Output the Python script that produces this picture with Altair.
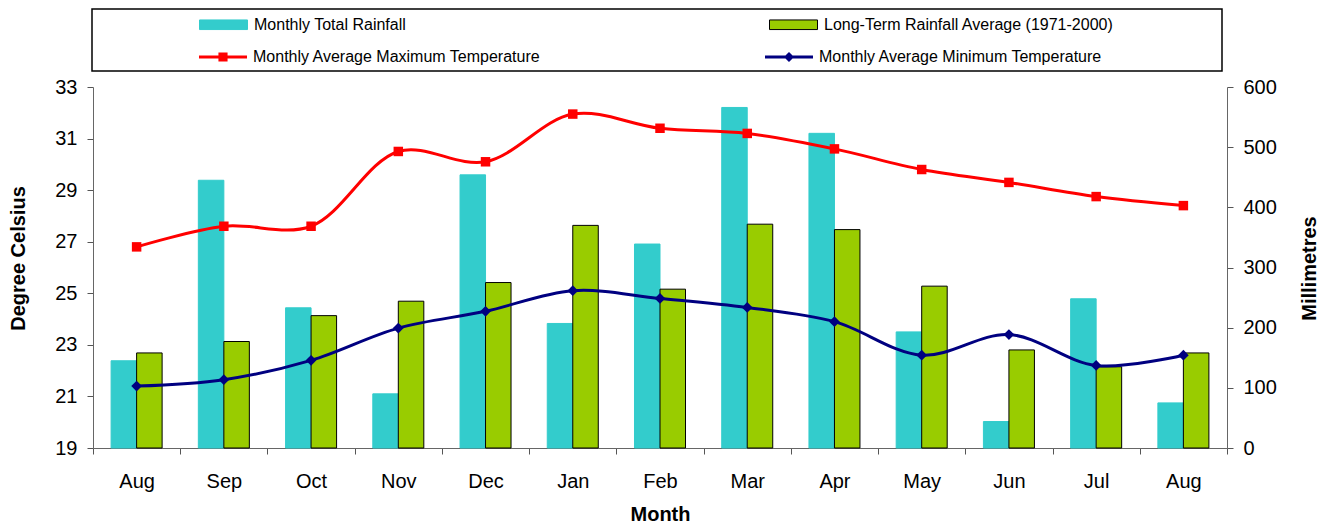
import altair as alt
import pandas as pd

# ---- data ----
months = ["Aug", "Sep", "Oct", "Nov", "Dec", "Jan", "Feb", "Mar", "Apr", "May", "Jun", "Jul", "Aug"]
rain_total = [145, 445, 233, 90, 454, 207, 339, 566, 523, 193, 44, 248, 75]
rain_longterm = [158, 177, 220, 244, 275, 370, 264, 372, 363, 269, 163, 135, 158]
temp_max = [26.8, 27.6, 27.6, 30.5, 30.1, 31.95, 31.4, 31.2, 30.6, 29.8, 29.3, 28.75, 28.4]
temp_min = [21.4, 21.65, 22.4, 23.65, 24.3, 25.1, 24.8, 24.45, 23.9, 22.6, 23.4, 22.2, 22.6]

rain_names = ["Monthly Total Rainfall", "Long-Term Rainfall Average (1971-2000)"]
temp_names = ["Monthly Average Maximum Temperature", "Monthly Average Minimum Temperature"]
left_ticks = [19, 21, 23, 25, 27, 29, 31, 33]
right_ticks = [0, 100, 200, 300, 400, 500, 600]

keys = [f"{m}_{i}" for i, m in enumerate(months)]

rain_df = pd.DataFrame(
    [{"key": k, "rseries": rain_names[0], "mm": v} for k, v in zip(keys, rain_total)]
    + [{"key": k, "rseries": rain_names[1], "mm": v} for k, v in zip(keys, rain_longterm)]
)
temp_df = pd.DataFrame(
    [{"key": k, "tseries": temp_names[0], "deg": v} for k, v in zip(keys, temp_max)]
    + [{"key": k, "tseries": temp_names[1], "deg": v} for k, v in zip(keys, temp_min)]
)

CYAN = "#33CCCC"
GREEN = "#99CC00"
RED = "#FF0000"
NAVY = "#000080"
FONT = "Liberation Sans"

X = alt.X(
    "key:N",
    sort=keys,
    scale=alt.Scale(paddingInner=0, paddingOuter=0),
    axis=alt.Axis(
        title="Month", labelExpr="substring(datum.label, 0, 3)", labelAngle=0,
        labelFontSize=20, labelColor="black", labelPadding=17,
        tickBand="extent", tickSize=6, tickColor="#555", domainColor="#666",
        titleFontSize=20, titleFontWeight="bold", titleColor="black",
        titleY=72, titleBaseline="alphabetic",
    ),
)

# ---- rainfall bars (right axis) ----
bar_legend = alt.Legend(
    orient="none", legendX=106, legendY=-87, direction="horizontal", title=None,
    symbolType="M-1,-0.2H1V0.2H-1Z", symbolSize=2304, symbolStrokeWidth=1,
    labelFontSize=16, labelOffset=6, labelLimit=600, labelColor="black",
    columnPadding=360, padding=0,
)
bars = alt.Chart(rain_df).mark_bar(strokeWidth=1).encode(
    x=X,
    xOffset=alt.XOffset("rseries:N", sort=rain_names,
                        scale=alt.Scale(paddingInner=0, paddingOuter=0.71)),
    y=alt.Y(
        "mm:Q",
        scale=alt.Scale(domain=[0, 600], nice=False, zero=True),
        axis=alt.Axis(
            orient="right", title="Millimetres", values=right_ticks, grid=False,
            labelFontSize=20, labelColor="black", labelPadding=10,
            tickSize=6, tickColor="#555", domainColor="#666",
            titleFontSize=20, titleFontWeight="bold", titleColor="black",
            titleAngle=270, titleX=82, titleY=181, titleBaseline="middle", titleAlign="center",
        ),
    ),
    fill=alt.Fill("rseries:N", scale=alt.Scale(domain=rain_names, range=[CYAN, GREEN]), legend=bar_legend),
    stroke=alt.Stroke("rseries:N", scale=alt.Scale(domain=rain_names, range=[CYAN, "black"]), legend=bar_legend),
)

# ---- temperature lines (left axis) ----
Y_T = alt.Y(
    "deg:Q",
    scale=alt.Scale(domain=[19, 33], nice=False, zero=False),
    axis=alt.Axis(
        orient="left", title="Degree Celsius", values=left_ticks, grid=False,
        labelFontSize=20, labelColor="black", labelPadding=10,
        tickSize=6, tickColor="#555", domainColor="#666",
        titleFontSize=20, titleFontWeight="bold", titleColor="black",
        titleAngle=270, titleX=-75, titleY=171, titleBaseline="middle", titleAlign="center",
    ),
)

line_legend = alt.Legend(
    orient="none", legendX=106, legendY=-54, direction="horizontal", title=None,
    symbolSize=2304, symbolStrokeWidth=0, symbolOpacity=1,
    labelFontSize=16, labelOffset=6, labelLimit=600, labelColor="black",
    columnPadding=224, padding=0,
)
legend_shapes = [
    "M-1,-0.0625H1V0.0625H-1Z M-0.19,-0.19H0.19V0.19H-0.19Z",
    "M-1,-0.0625H1V0.0625H-1Z M0,-0.21L0.21,0L0,0.21L-0.21,0Z",
]
color_scale = alt.Scale(domain=temp_names, range=[RED, NAVY])


def series_layers(name, colour, shape, size):
    base = alt.Chart(temp_df).transform_filter(alt.datum.tseries == name)
    ln = base.mark_line(interpolate="catmull-rom", strokeWidth=3, color=colour).encode(x=X, y=Y_T)
    pt = base.mark_point(shape=shape, filled=True, size=size, color=colour,
                         opacity=1, strokeWidth=0).encode(x=X, y=Y_T)
    return [ln, pt]


# legend-only layer: its rows are filtered out, the scales' explicit domains keep the legend
legend_pts = alt.Chart(temp_df).transform_filter("datum.deg < 0").mark_point(filled=True).encode(
    x=X, y=Y_T,
    color=alt.Color("tseries:N", scale=color_scale, legend=line_legend),
    shape=alt.Shape("tseries:N", scale=alt.Scale(domain=temp_names, range=legend_shapes), legend=line_legend),
)
temps = alt.layer(
    *series_layers(temp_names[0], RED, "square", 90),
    *series_layers(temp_names[1], NAVY, "diamond", 115),
    legend_pts,
)

# ---- legend frame ----
frame = alt.Chart(pd.DataFrame({"a": [0]})).mark_rect(
    fill="transparent", stroke="black", strokeWidth=1.5
).encode(x=alt.value(-1), x2=alt.value(1129), y=alt.value(-78), y2=alt.value(-16))

chart = alt.layer(frame, bars, temps).resolve_scale(
    y="independent"
).properties(
    width=1134, height=361,
    padding={"left": 85, "top": 79, "right": 97, "bottom": 76},
    autosize=alt.AutoSizeParams(type="none"),
).configure(font=FONT).configure_view(stroke=None)

chart.save("out.html", embed_options={"renderer": "svg", "actions": False})
